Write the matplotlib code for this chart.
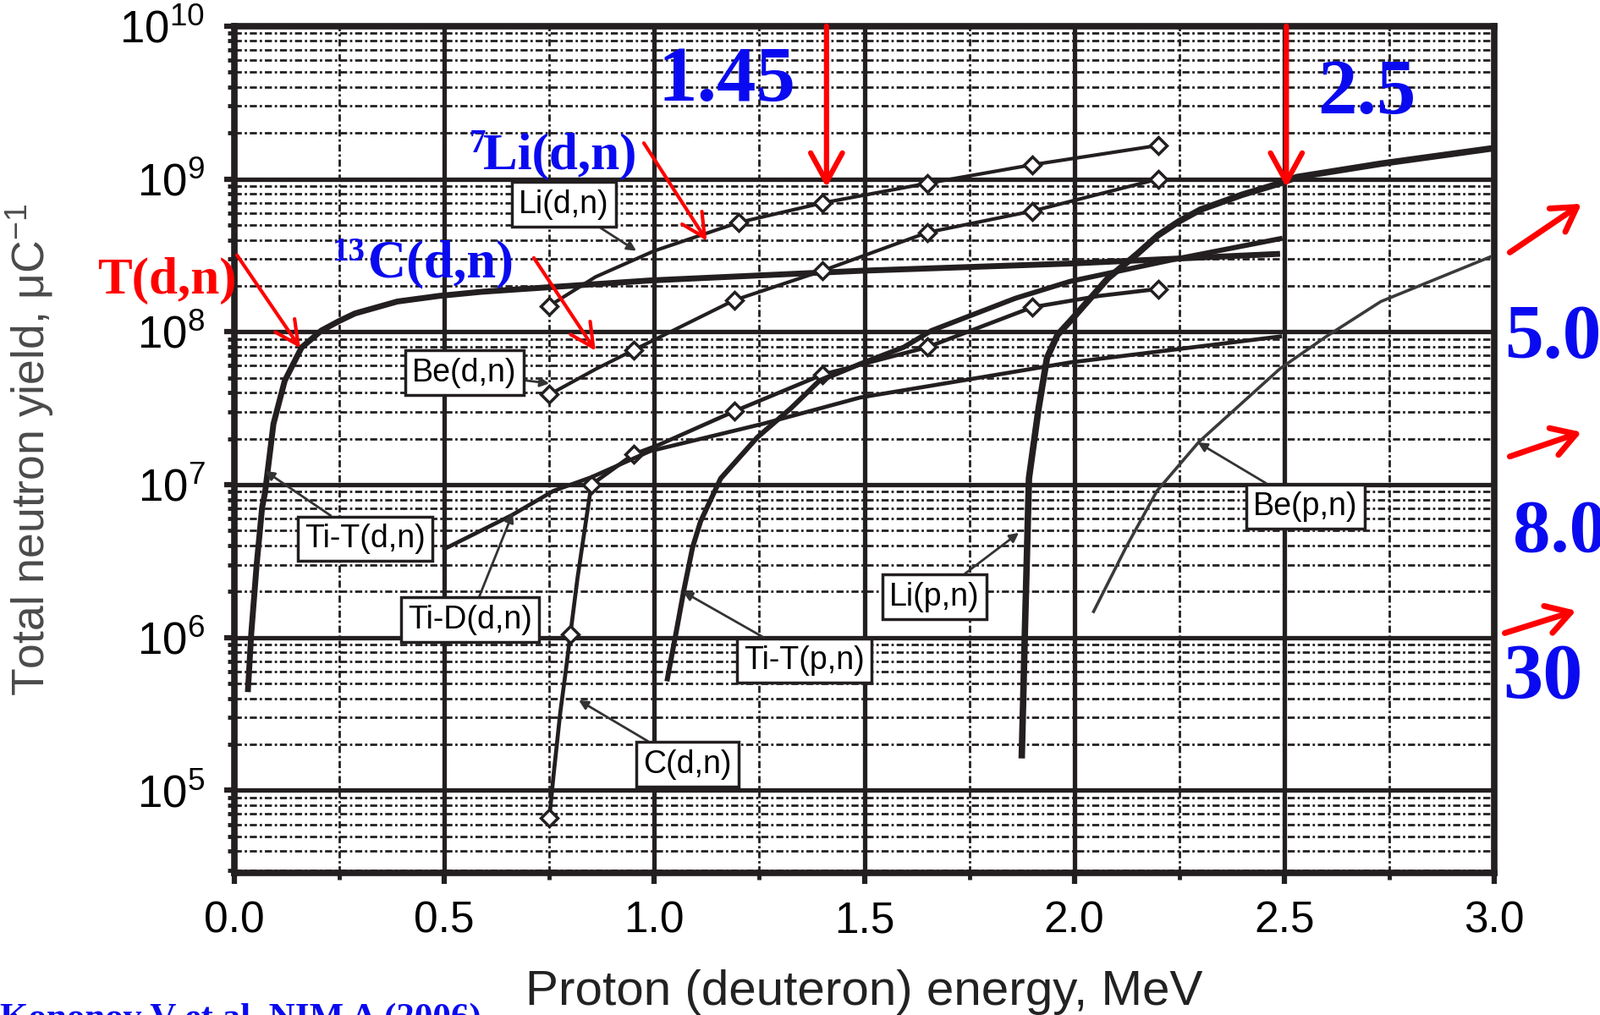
import numpy as np
import matplotlib
matplotlib.use('Agg')
import matplotlib.pyplot as plt
from matplotlib.ticker import MultipleLocator, FormatStrFormatter, LogLocator

# ---------------- data ----------------
# Ti-T(d,n)  (thick curve, "T(d,n)")
tdn_x = [0.032, 0.040, 0.053, 0.066, 0.073, 0.093, 0.12, 0.16, 0.207, 0.25, 0.287, 0.388, 0.488,
         0.589, 0.689, 0.99, 1.49, 1.99, 2.49]
tdn_y = [4.4e5, 1.05e6, 3.0e6, 7.1e6, 8.9e6, 2.5e7, 4.8e7, 7.9e7, 1.02e8, 1.18e8, 1.32e8, 1.58e8,
         1.72e8, 1.83e8, 1.91e8, 2.17e8, 2.51e8, 2.80e8, 3.24e8]
# Li(d,n)
lidn_x = [0.75, 0.86, 1.0, 1.2, 1.4, 1.65, 1.9, 2.2]
lidn_y = [1.48e8, 2.29e8, 3.39e8, 5.19e8, 6.97e8, 9.38e8, 1.24e9, 1.66e9]
lidn_mk = [0, 3, 4, 5, 6, 7]
# Be(d,n)
bedn_x = [0.75, 0.86, 0.95, 1.19, 1.4, 1.65, 1.9, 2.2]
bedn_y = [3.89e7, 5.70e7, 7.59e7, 1.61e8, 2.51e8, 4.47e8, 6.17e8, 1.0e9]
bedn_mk = [0, 2, 3, 4, 5, 6, 7]
# C(d,n)
cdn_x = [0.75, 0.76, 0.776, 0.79, 0.80, 0.817, 0.837, 0.85, 0.95, 1.01, 1.19, 1.4, 1.65, 1.9, 2.06, 2.2]
cdn_y = [6.6e4, 1.26e5, 3.24e5, 6.31e5, 1.05e6, 2.45e6, 5.75e6, 1.0e7, 1.58e7, 1.82e7, 3.02e7,
         5.25e7, 7.94e7, 1.45e8, 1.72e8, 1.91e8]
cdn_mk = [0, 4, 7, 8, 10, 11, 12, 13, 15]
# Ti-D(d,n)
tiddn_x = [0.50, 0.66, 0.76, 0.85, 0.99, 1.26, 1.49, 1.73, 1.99, 2.24, 2.49]
tiddn_y = [3.8e6, 6.31e6, 9.12e6, 1.12e7, 1.66e7, 2.51e7, 3.72e7, 4.79e7, 6.31e7, 7.67e7, 9.33e7]
# Ti-T(p,n)
titpn_x = [1.031, 1.051, 1.071, 1.091, 1.11, 1.158, 1.245, 1.325, 1.393, 1.49, 1.594, 1.66,
           1.86, 1.99, 2.24, 2.49]
titpn_y = [5.37e5, 1.05e6, 2.09e6, 3.89e6, 5.75e6, 1.10e7, 2.04e7, 3.16e7, 4.79e7, 6.17e7,
           7.94e7, 1.02e8, 1.66e8, 2.14e8, 2.99e8, 4.07e8]
# Li(p,n)
lipn_x = [1.875, 1.882, 1.892, 1.915, 1.935, 1.96, 2.0, 2.08, 2.15, 2.20, 2.25, 2.30, 2.40, 2.49,
          2.53, 2.73, 2.99]
lipn_y = [1.70e5, 1.0e6, 1.10e7, 3.16e7, 6.76e7, 9.55e7, 1.26e8, 2.24e8, 3.24e8, 4.3e8, 5.3e8,
          6.3e8, 7.9e8, 9.38e8, 1.03e9, 1.26e9, 1.58e9]
# Be(p,n)
bepn_x = [2.046, 2.123, 2.197, 2.297, 2.49, 2.6, 2.73, 2.99]
bepn_y = [1.48e6, 3.89e6, 9.12e6, 1.91e7, 5.75e7, 9.33e7, 1.58e8, 3.09e8]

box_labels = ['Li(d,n)', 'Be(d,n)', 'Ti-T(d,n)', 'Ti-D(d,n)', 'C(d,n)', 'Ti-T(p,n)',
              'Li(p,n)', 'Be(p,n)']
x_ticks = [0.0, 0.5, 1.0, 1.5, 2.0, 2.5, 3.0]
energy_marks = ['1.45', '2.5']
right_marks = ['5.0', '8.0', '30']

# ---------------- style ----------------
INK = '#231f20'
BLUE = '#0a0af0'
RED = '#ff0000'
plt.rcParams['font.family'] = ['Liberation Sans', 'DejaVu Sans']
plt.rcParams['mathtext.fontset'] = 'custom'
plt.rcParams['mathtext.rm'] = 'Liberation Sans'
plt.rcParams['mathtext.it'] = 'Liberation Sans:italic'
plt.rcParams['mathtext.bf'] = 'Liberation Sans:bold'
SERIF = ['Liberation Serif', 'DejaVu Serif']

fig = plt.figure(figsize=(18.91, 12), dpi=100)
ax = fig.add_axes([0.1465, 0.1403, 0.7874, 0.8339])
ax.set_yscale('log')
ax.set_xlim(0, 3)
ax.set_ylim(2.9e4, 1e10)
ax.set_axisbelow(True)

ax.xaxis.set_major_locator(MultipleLocator(0.5))
ax.xaxis.set_minor_locator(MultipleLocator(0.25))
ax.xaxis.set_major_formatter(FormatStrFormatter('%.1f'))
ax.set_xticks(x_ticks)
ax.yaxis.set_major_locator(LogLocator(base=10, numticks=20))
ax.yaxis.set_minor_locator(LogLocator(base=10, subs=np.arange(2, 10), numticks=100))

ax.grid(which='major', color=INK, lw=3.8, ls='-')
ax.grid(which='minor', color=INK, lw=2.0, ls=(0, (3, 1.2, 1, 1.2)))
for s in ax.spines.values():
    s.set_linewidth(5.5)
    s.set_color(INK)

ax.tick_params(axis='both', which='major', labelsize=37, color=INK, width=4.5, length=9,
               direction='out')
ax.tick_params(axis='y', which='major', labelsize=38, pad=16)
ax.tick_params(axis='x', which='major', pad=15)
ax.tick_params(axis='both', which='minor', color=INK, width=3.5, length=6, direction='out')

ax.set_xlabel('Proton (deuteron) energy, MeV', fontsize=42, color='#222222')
ax.xaxis.set_label_coords(0.5, -0.114)
ax.set_ylabel('Total neutron yield, μC$^{-1}$', fontsize=38.5, color='#4a4a4a')
ax.yaxis.set_label_coords(-0.142, 0.5)

# ---------------- curves ----------------
mk = dict(marker='D', ms=10, mfc='white', mec=INK, mew=2.5)
ax.plot(tdn_x, tdn_y, color=INK, lw=5, zorder=3, solid_capstyle='butt', solid_joinstyle='round')
ax.plot(lidn_x, lidn_y, color=INK, lw=3, zorder=3, markevery=lidn_mk, **mk)
ax.plot(bedn_x, bedn_y, color=INK, lw=3, zorder=3, markevery=bedn_mk, **mk)
ax.plot(cdn_x, cdn_y, color=INK, lw=3.4, zorder=3, markevery=cdn_mk, **mk)
ax.plot(tiddn_x, tiddn_y, color=INK, lw=3.4, zorder=3)
ax.plot(titpn_x, titpn_y, color=INK, lw=4.3, zorder=3, solid_joinstyle='round')
ax.plot(lipn_x, lipn_y, color=INK, lw=5.5, zorder=3, solid_joinstyle='round')
ax.plot(bepn_x, bepn_y, color='#3a3a3a', lw=2.6, zorder=3)

# ---------------- boxed labels with leaders ----------------
box_pos = [(0.785, 6.82e8), (0.547, 5.41e7), (0.311, 4.42e6), (0.561, 1.31e6),
           (1.078, 1.48e5), (1.357, 7.08e5), (1.667, 1.85e6), (2.55, 7.19e6)]
box_tgt = [(0.957, 3.39e8), (0.75, 4.6e7), (0.073, 1.23e7), (0.663, 6.53e6),
           (0.82, 3.89e5), (1.068, 2.0e6), (1.868, 4.85e6), (2.294, 1.89e7)]
for txt, p, t in zip(box_labels, box_pos, box_tgt):
    ax.annotate(txt, xy=t, xytext=p, ha='center', va='center', fontsize=27, color='black',
                bbox=dict(boxstyle='square,pad=0.22', fc='white', ec=INK, lw=2.5),
                arrowprops=dict(arrowstyle='-|>', color='#333333', lw=2, mutation_scale=16,
                                shrinkA=0, shrinkB=0),
                zorder=5)

# ---------------- red arrows ----------------
big = dict(arrowstyle='->,head_length=0.55,head_width=0.3', color=RED, lw=4.5,
           mutation_scale=45, shrinkA=0, shrinkB=0)
mid = dict(arrowstyle='->,head_length=0.5,head_width=0.25', color=RED, lw=3,
           mutation_scale=40, shrinkA=0, shrinkB=0)
side = dict(arrowstyle='->,head_length=0.5,head_width=0.3', color=RED, lw=5,
            mutation_scale=40, shrinkA=0, shrinkB=0)
ax.annotate('', xy=(1.41, 8.8e8), xytext=(1.41, 1e10), arrowprops=big, zorder=6,
            annotation_clip=False)
ax.annotate('', xy=(2.505, 8.8e8), xytext=(2.505, 1e10), arrowprops=big, zorder=6,
            annotation_clip=False)
ax.annotate('', xy=(0.157, 7.83e7), xytext=(0.006, 3.18e8), arrowprops=mid, zorder=6,
            annotation_clip=False)
ax.annotate('', xy=(0.860, 7.52e7), xytext=(0.713, 3.05e8), arrowprops=mid, zorder=6,
            annotation_clip=False)
ax.annotate('', xy=(1.125, 3.94e8), xytext=(0.975, 1.72e9), arrowprops=mid, zorder=6,
            annotation_clip=False)
ax.annotate('', xy=(3.208, 6.89e8), xytext=(3.037, 3.31e8), arrowprops=side,
            annotation_clip=False)
ax.annotate('', xy=(3.208, 2.21e7), xytext=(3.037, 1.53e7), arrowprops=side,
            annotation_clip=False)
ax.annotate('', xy=(3.195, 1.50e6), xytext=(3.025, 1.07e6), arrowprops=side,
            annotation_clip=False)

# ---------------- blue / red text ----------------
bt = dict(family=SERIF, weight='bold', color=BLUE)
ax.text(1.008, 3.27e9, energy_marks[0], fontsize=67, ha='left', va='baseline', zorder=7, **bt)
ax.text(2.580, 2.69e9, energy_marks[1], fontsize=67, ha='left', va='baseline', zorder=7, **bt)
ax.text(3.024, 6.78e7, right_marks[0], fontsize=66, ha='left', va='baseline', **bt)
ax.text(3.045, 3.69e6, right_marks[1], fontsize=64, ha='left', va='baseline', **bt)
ax.text(3.020, 4.0e5, right_marks[2], fontsize=68, ha='left', va='baseline', **bt)
ax.text(0.559, 2.15e9, '7', fontsize=28, ha='left', va='top', zorder=7, **bt)
ax.text(0.592, 1.16e9, 'Li(d,n)', fontsize=44, ha='left', va='baseline', zorder=7, **bt)
ax.text(0.233, 4.19e8, '13', fontsize=28, ha='left', va='top', zorder=7, **bt)
ax.text(0.318, 2.28e8, 'C(d,n)', fontsize=45, ha='left', va='baseline', zorder=7, **bt)
ax.text(-0.326, 1.79e8, 'T(d,n)', fontsize=44, ha='left', va='baseline', family=SERIF,
        weight='bold', color=RED, zorder=7)

fig.text(0.0, -0.0125, 'Kononov V et al. NIM A (2006)', fontsize=31, ha='left',
         va='baseline', family=SERIF, weight='bold', color=BLUE)

fig.savefig('out.png', dpi=100)
